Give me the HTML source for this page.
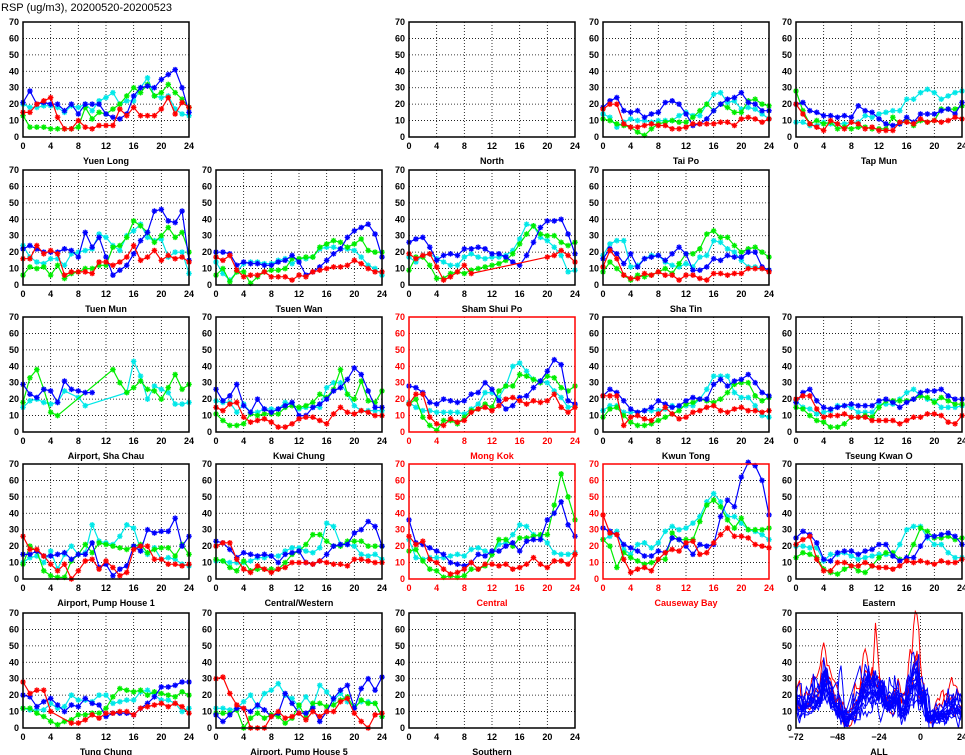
<!DOCTYPE html>
<html><head><meta charset="utf-8">
<style>
html,body{margin:0;padding:0;background:#fff;}
svg{display:block;font-family:"Liberation Sans",sans-serif;}
</style></head>
<body>
<svg id="chart" width="965" height="755" viewBox="0 0 965 755" xmlns="http://www.w3.org/2000/svg">
<text x="1" y="11" font-size="11" fill="#000">RSP (ug/m3), 20200520-20200523</text>
</svg>
<script>
// hours and ticks
const hourTicks = [0,4,8,12,16,20,24];
const valueTicks = [0,10,20,30,40,50,60,70];
const allTicks = [-72,-48,-24,0,24];
const N = null;
// series: cyan = day1, green = day2, blue = day3, red = day4
const ylC=[20,18,18,19,19,18,15,19,18,20,16,22,24,27,20,22,22,30,36,25,24,25,17,14,13];
const ylG=[13,6,6,6,5,5,5,5,6,18,11,15,14,17,20,25,30,27,32,25,27,32,27,23,18];
const ylB=[21,28,20,21,20,20,16,20,14,20,20,20,14,12,11,14,25,30,31,30,35,38,41,30,15];
const ylR=[15,15,20,22,24,12,5,5,10,6,5,7,7,7,17,13,18,13,13,13,17,24,14,21,18];
const tpC=[14,12,6,9,11,10,10,9,10,10,10,13,15,13,13,20,26,27,21,22,17,18,17,14,11];
const tpG=[11,10,8,7,6,3,1,5,8,9,10,9,9,12,16,20,16,20,18,15,15,22,23,20,19];
const tpB=[18,22,24,16,15,16,12,14,15,21,22,20,14,7,8,11,16,20,23,24,27,21,20,16,16];
const tpR=[17,20,20,8,6,6,7,8,7,7,5,5,6,8,8,8,8,9,9,7,11,12,11,9,11];
const tmC=[9,9,7,7,9,8,8,8,9,9,13,12,14,15,16,16,23,23,27,29,27,23,25,27,28];
const tmG=[28,16,8,10,8,9,5,6,5,6,6,5,5,5,12,8,10,7,10,9,10,17,17,17,19];
const tmB=[20,21,16,15,13,13,12,13,12,19,16,15,11,8,7,8,12,9,14,14,14,16,17,14,21];
const tmR=[20,14,8,6,4,10,8,5,9,8,5,6,4,4,4,9,9,8,11,9,10,9,10,12,11];
const tuC=[24,17,14,13,16,16,12,19,20,21,22,31,29,24,21,30,33,37,29,27,28,17,20,20,7];
const tuG=[6,11,10,11,6,12,4,7,8,10,10,12,12,23,24,29,39,36,32,26,30,35,29,32,20];
const tuB=[22,24,22,20,20,20,22,21,17,32,23,29,17,6,9,12,19,27,32,45,46,39,38,45,15];
const tuR=[16,16,24,19,21,19,6,8,8,8,7,14,14,12,14,17,24,15,17,21,15,18,16,17,14];
const twC=[14,7,3,8,13,14,14,13,13,15,16,13,16,16,17,22,23,23,22,22,21,17,12,10,6];
const twG=[6,10,2,8,8,1,5,8,9,9,10,16,16,17,17,23,25,27,26,23,25,28,21,20,20];
const twB=[20,20,19,12,14,13,13,12,12,14,15,18,14,6,8,11,15,19,22,29,33,35,37,31,17];
const twR=[17,15,18,9,5,6,6,8,5,5,5,3,6,5,8,9,10,11,11,12,15,13,10,8,8];
const ssC=[17,14,18,19,16,14,12,12,17,19,17,16,17,17,18,21,28,37,36,29,27,23,18,8,9];
const ssG=[9,17,17,12,4,4,7,8,7,9,10,11,12,13,15,19,25,31,36,31,30,30,26,24,26];
const ssB=[26,28,29,23,15,18,19,18,22,22,23,22,19,19,17,14,12,18,26,35,39,39,40,31,19];
const ssR=[19,16,18,19,11,3,5,8,12,7,N,N,N,N,N,N,N,N,N,N,17,18,21,18,14];
const stC=[18,25,27,27,11,12,16,18,18,14,12,11,13,11,17,18,27,26,22,20,15,11,11,10,9];
const stG=[8,14,10,6,3,6,5,6,8,10,7,13,19,19,22,31,33,29,29,24,20,22,23,20,17];
const stB=[16,22,19,13,19,11,16,17,18,15,19,23,19,9,9,11,16,15,18,17,17,20,20,11,9];
const stR=[11,21,16,6,4,4,7,6,8,6,6,3,6,6,4,3,7,7,6,7,7,10,10,10,8];
const scC=[15,19,20,18,17,18,25,N,21,16,N,N,N,N,N,24,43,34,20,28,26,24,17,17,18];
const scG=[18,33,38,26,12,10,N,N,N,N,N,N,N,38,30,24,27,31,26,25,20,27,35,26,29];
const scB=[29,23,21,26,25,18,31,26,25,24,24,N,N,N,N,N,N,N,N,N,N,N,N,N,N];
const scR=[N,N,N,N,N,N,N,N,N,N,N,N,N,N,N,N,N,N,N,N,N,N,N,N,N];
const kcC=[19,18,18,12,17,12,12,14,14,14,18,17,14,15,15,15,27,30,30,23,16,13,13,13,13];
const kcG=[11,7,4,4,5,11,10,11,11,11,15,16,15,16,18,23,21,26,38,23,20,31,19,18,25];
const kcB=[26,19,22,29,16,12,20,14,12,14,16,18,10,10,15,17,20,25,27,32,39,35,25,15,15];
const kcR=[15,13,17,18,9,6,7,8,6,3,3,5,8,9,9,7,5,11,15,12,11,13,12,10,10];
const mkC=[18,15,13,13,12,12,12,12,11,14,17,24,24,21,28,40,42,37,32,31,30,25,21,15,16];
const mkG=[17,20,9,4,1,7,7,5,9,13,14,17,15,25,28,28,35,34,32,30,34,33,27,25,28];
const mkB=[28,27,24,18,17,20,19,18,19,23,24,30,26,19,14,16,21,22,27,31,37,44,41,19,17];
const mkR=[17,23,23,9,5,4,8,6,7,12,14,15,13,16,20,21,19,17,19,18,19,23,15,12,15];
const ktC=[13,16,16,12,12,12,13,13,13,14,16,15,16,16,20,26,34,34,34,24,21,21,16,10,9];
const ktG=[9,14,15,10,6,4,4,5,7,9,11,13,17,18,20,19,18,20,24,29,30,30,22,19,21];
const ktB=[22,26,24,19,14,12,13,15,19,17,15,16,19,21,20,20,29,32,28,31,32,35,30,24,22];
const ktR=[22,22,22,4,9,10,8,7,11,15,11,8,9,12,13,15,16,13,12,14,15,13,13,12,13];
const tkC=[19,15,14,11,12,13,16,16,15,12,12,12,17,17,17,20,24,26,22,20,19,15,15,15,16];
const tkG=[15,14,10,7,6,3,3,5,9,9,10,9,15,19,19,19,19,20,22,21,18,21,19,17,17];
const tkB=[18,24,26,19,15,14,15,16,17,16,16,16,19,20,18,15,18,20,24,25,25,26,22,20,20];
const tkR=[20,22,22,14,9,10,10,11,9,9,9,7,7,7,7,5,7,9,9,11,11,10,6,5,10];
const p1C=[10,13,14,10,17,6,15,20,15,16,33,23,22,21,26,33,31,18,15,19,12,13,12,9,8];
const p1G=[9,20,17,5,2,1,1,11,15,21,16,22,21,20,19,18,20,21,16,18,19,19,14,21,15];
const p1B=[15,15,17,14,14,15,16,12,15,15,22,7,9,2,6,8,20,17,30,28,29,29,37,20,26];
const p1R=[26,18,18,14,9,5,9,0,5,11,12,6,11,7,2,4,18,20,20,12,12,9,9,8,9];
const cwC=[11,11,10,10,10,11,13,13,14,14,17,19,19,17,16,19,34,32,21,21,20,15,14,15,12];
const cwG=[12,11,7,5,11,5,6,6,6,6,10,15,17,21,27,27,23,20,20,23,23,23,20,20,20];
const cwB=[23,22,18,13,16,15,14,15,14,10,15,16,17,10,9,11,15,20,21,21,28,30,35,32,20];
const cwR=[20,22,22,12,6,4,8,6,4,6,7,10,10,10,9,11,10,9,9,8,12,12,11,10,10];
const ceC=[24,13,12,13,13,13,14,15,14,18,19,17,15,21,22,27,33,32,27,26,22,16,15,15,16];
const ceG=[17,18,11,6,5,1,2,1,2,6,6,8,15,24,24,20,25,25,26,27,27,45,64,50,36];
const ceB=[36,22,21,19,17,15,10,9,8,10,15,14,17,17,20,22,17,23,24,24,36,40,47,33,26];
const ceR=[26,21,23,12,10,6,3,4,6,10,6,9,9,8,9,6,7,9,13,9,7,11,11,9,15];
const cbC=[24,26,29,18,15,21,22,19,22,29,32,30,31,34,38,47,52,47,38,38,34,30,29,27,24];
const cbG=[24,20,7,16,13,11,9,10,12,12,28,24,24,24,35,45,48,44,36,31,37,30,30,30,31];
const cbB=[31,29,27,21,19,17,14,14,17,16,25,24,20,15,21,20,21,38,48,44,62,71,69,60,39];
const cbR=[39,28,27,12,4,6,7,5,12,16,18,17,22,23,15,16,22,27,31,26,26,25,21,20,19];
const eaC=[20,20,19,19,11,15,15,16,14,12,13,14,15,15,14,21,30,32,32,25,21,21,16,13,13];
const eaG=[13,16,15,13,6,4,3,6,8,5,4,8,13,16,16,12,12,21,31,29,25,25,26,24,25];
const eaB=[25,29,27,22,12,11,16,17,17,15,17,18,21,21,14,11,13,13,20,26,26,27,28,26,21];
const eaR=[21,24,26,12,5,5,10,10,8,8,10,8,7,7,6,8,11,10,11,10,9,11,10,10,12];
const tcC=[12,11,11,11,15,12,13,20,17,17,16,20,20,15,16,17,17,22,23,20,17,17,15,10,12];
const tcG=[12,12,9,7,4,2,4,5,8,8,9,9,12,19,24,23,22,23,20,22,21,20,19,22,20];
const tcB=[20,19,13,16,18,14,10,14,13,18,15,14,7,9,9,9,8,12,15,19,25,25,26,28,28];
const tcR=[28,21,23,23,10,N,N,3,3,5,8,6,9,9,10,10,8,12,13,14,15,13,15,13,9];
const p5C=[12,12,11,12,16,20,13,21,23,27,20,18,13,19,13,26,22,17,21,16,13,16,16,15,7];
const p5G=[9,9,9,11,0,6,9,6,8,7,3,6,14,6,15,15,13,14,17,19,12,17,15,15,7];
const p5B=[8,4,8,12,12,10,14,11,7,9,21,15,9,9,12,4,10,18,23,26,12,24,30,23,31];
const p5R=[30,31,21,14,12,0,0,0,7,10,6,7,9,5,10,7,10,10,16,18,9,4,0,8,9];

const stationNames=["Yuen Long","North","Tai Po","Tap Mun","Tuen Mun","Tsuen Wan","Sham Shui Po","Sha Tin","Airport, Sha Chau","Kwai Chung","Mong Kok","Kwun Tong","Tseung Kwan O","Airport, Pump House 1","Central/Western","Central","Causeway Bay","Eastern","Tung Chung","Airport, Pump House 5","Southern"];

const svg=document.getElementById('chart');
const NS="http://www.w3.org/2000/svg";
const COLS=[23,216,409,603,796], ROWS=[22,170,317,464,613], W=166, H=115;
const colors={c:"#00e8e8",g:"#00ee00",b:"#0000ff",r:"#ff0000"};
const light={c:"#b0ffff",g:"#b0ffb0",b:"#b0b0ff",r:"#ffb0b0"};

function mk(tag,attrs,parent){const e=document.createElementNS(NS,tag);for(const k in attrs)e.setAttribute(k,attrs[k]);(parent||svg).appendChild(e);return e;}

function panel(col,row,name,series,hl){
  const x0=COLS[col],y0=ROWS[row];
  const fc=hl?"#ff0000":"#000";
  const g=mk('g',{});
  
  
  const sx=h=>x0+h/24*W, sy=v=>y0+H-v/70*H;
  for(const t of hourTicks){ if(t>0&&t<24){const l=mk('line',{x1:sx(t),x2:sx(t),y1:y0,y2:y0+H,stroke:"#000","stroke-width":0.8,"stroke-dasharray":"1,2"},g);}
    const tx=mk('text',{x:sx(t),y:y0+H+12,"font-size":9,"font-weight":"bold","text-anchor":"middle",fill:fc},g);tx.textContent=t;
    }
  for(const v of valueTicks){ if(v>0){const l=mk('line',{x1:x0,x2:x0+W,y1:sy(v),y2:sy(v),stroke:"#000","stroke-width":0.8,"stroke-dasharray":"1,2"},g);}
    const ty=mk('text',{x:x0-4,y:sy(v)+3,"font-size":9,"font-weight":"bold","text-anchor":"end",fill:fc},g);ty.textContent=v;
    }
  const lab=mk('text',{x:x0+W/2,y:y0+H+27,"font-size":9,"font-weight":"bold","text-anchor":"middle",fill:fc},g);lab.textContent=name;
  
  for(const [key,arr] of series){
    const pts=[];arr.forEach((v,h)=>{if(v!==null)pts.push([sx(h),sy(v)]);});
    if(!pts.length)continue;
    const pl=mk('polyline',{points:pts.map(p=>p[0].toFixed(1)+","+p[1].toFixed(1)).join(" "),fill:"none",stroke:colors[key],"stroke-width":1.2},g);
    
    for(const [px,py] of pts){
      const m=mk('path',{d:`M${px-2.8},${py}h5.6M${px},${py-2.8}v5.6M${px-2},${py-2}l4,4M${px-2},${py+2}l4,-4`,stroke:colors[key],"stroke-width":1.3},g);
      
    }
  }
  const fr=mk('rect',{x:x0,y:y0,width:W,height:H,fill:"none",stroke:fc,"stroke-width":1.5},g);
  
}
const S=(c,g,b,r)=>[["c",c],["g",g],["b",b],["r",r]];
panel(0,0,"Yuen Long",S(ylC,ylG,ylB,ylR));
panel(2,0,"North",[]);
panel(3,0,"Tai Po",S(tpC,tpG,tpB,tpR));
panel(4,0,"Tap Mun",S(tmC,tmG,tmB,tmR));
panel(0,1,"Tuen Mun",S(tuC,tuG,tuB,tuR));
panel(1,1,"Tsuen Wan",S(twC,twG,twB,twR));
panel(2,1,"Sham Shui Po",S(ssC,ssG,ssB,ssR));
panel(3,1,"Sha Tin",S(stC,stG,stB,stR));
panel(0,2,"Airport, Sha Chau",S(scC,scG,scB,scR));
panel(1,2,"Kwai Chung",S(kcC,kcG,kcB,kcR));
panel(2,2,"Mong Kok",S(mkC,mkG,mkB,mkR),true);
panel(3,2,"Kwun Tong",S(ktC,ktG,ktB,ktR));
panel(4,2,"Tseung Kwan O",S(tkC,tkG,tkB,tkR));
panel(0,3,"Airport, Pump House 1",S(p1C,p1G,p1B,p1R));
panel(1,3,"Central/Western",S(cwC,cwG,cwB,cwR));
panel(2,3,"Central",S(ceC,ceG,ceB,ceR),true);
panel(3,3,"Causeway Bay",S(cbC,cbG,cbB,cbR),true);
panel(4,3,"Eastern",S(eaC,eaG,eaB,eaR));
panel(0,4,"Tung Chung",S(tcC,tcG,tcB,tcR));
panel(1,4,"Airport, Pump House 5",S(p5C,p5G,p5B,p5R));
panel(2,4,"Southern",[]);

// ALL panel
(function(){
  const x0=COLS[4],y0=ROWS[4];
  const sx=t=>x0+(t+72)/96*W, sy=v=>y0+H-v/70*H;
  const g=mk('g',{});
  
  
  for(const t of allTicks){ if(t>-72&&t<24){const l=mk('line',{x1:sx(t),x2:sx(t),y1:y0,y2:y0+H,stroke:"#000","stroke-width":0.8,"stroke-dasharray":"1,2"},g);}
    const tx=mk('text',{x:sx(t),y:y0+H+12,"font-size":9,"font-weight":"bold","text-anchor":"middle",fill:"#000"},g);tx.textContent=(t<0?"\u2212"+(-t):t);
    }
  for(const v of valueTicks){ if(v>0){const l=mk('line',{x1:x0,x2:x0+W,y1:sy(v),y2:sy(v),stroke:"#000","stroke-width":0.8,"stroke-dasharray":"1,2"},g);}
    const ty=mk('text',{x:x0-4,y:sy(v)+3,"font-size":9,"font-weight":"bold","text-anchor":"end",fill:"#000"},g);ty.textContent=v;
    }
  const lab=mk('text',{x:x0+W/2,y:y0+H+27,"font-size":9,"font-weight":"bold","text-anchor":"middle",fill:"#000"},g);lab.textContent="ALL";
  
  const normal=[[ylC,ylG,ylB,ylR],[tpC,tpG,tpB,tpR],[tmC,tmG,tmB,tmR],[tuC,tuG,tuB,tuR],[twC,twG,twB,twR],[ssC,ssG,ssB,ssR],[stC,stG,stB,stR],[scC,scG,scB,scR],[kcC,kcG,kcB,kcR],[ktC,ktG,ktB,ktR],[tkC,tkG,tkB,tkR],[p1C,p1G,p1B,p1R],[cwC,cwG,cwB,cwR],[eaC,eaG,eaB,eaR],[tcC,tcG,tcB,tcR],[p5C,p5G,p5B,p5R]];
  const hl=[[mkC,mkG,mkB,mkR],[ceC,ceG,ceB,ceR],[cbC,cbG,cbB,cbR]];
  function draw(days,col){
    const pts=[];
    days.forEach((arr,d)=>{arr.forEach((v,h)=>{if(h===24&&d<3)return;if(v!==null)pts.push([sx(-72+d*24+h),sy(v)]);});});
    if(!pts.length)return;
    const pl=mk('polyline',{points:pts.map(p=>p[0].toFixed(1)+","+p[1].toFixed(1)).join(" "),fill:"none",stroke:col,"stroke-width":1},g);
    
  }
  hl.forEach(d=>draw(d,"#ff0000"));
  normal.forEach(d=>draw(d,"#0000ff"));
  const fr=mk('rect',{x:x0,y:y0,width:W,height:H,fill:"none",stroke:"#000","stroke-width":1.5},g);
  
})();
</script>
</body></html>
